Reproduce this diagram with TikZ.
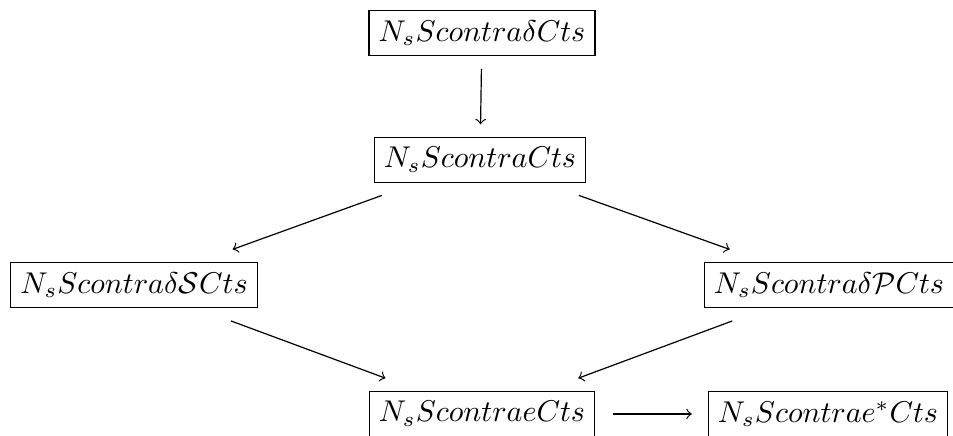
\documentclass[tikz,border=0pt]{standalone}
\usepackage{amsmath}
\usepackage{amssymb}
\usepackage{tikz}

\begin{document}
\begin{tikzpicture}[x=0.333pt,y=0.333pt,
        space/.style={draw=black,fill=white,line width=0.4pt,inner sep=3.2pt},
        imp/.style={->,line width=0.4pt,shorten <=4.3pt,shorten >=4.3pt},
        imph/.style={->,line width=0.4pt,shorten <=5.8pt,shorten >=5.3pt},
        impd/.style={->,line width=0.4pt,shorten <=12.5pt,shorten >=12.5pt}]
        \useasboundingbox (0,0) rectangle (953,436);
        % Implications between the classes of contra-continuous functions.
        \node[space] (top) at (482,403) {$N_sScontra\delta Cts$};
        \node[space] (mid) at (480,276) {$N_sScontraCts$};
        \node[space] (lft) at (134,151) {$N_sScontra\delta\mathcal{S}Cts$};
        \node[space] (rgt) at (829,151) {$N_sScontra\delta\mathcal{P}Cts$};
        \node[space] (bot) at (482,22) {$N_sScontraeCts$};
        \node[space] (botr) at (828,22) {$N_sScontrae^{*}Cts$};
        \draw[imp] (top) -- (mid);
        \draw[impd] (mid) -- (lft);
        \draw[impd] (mid) -- (rgt);
        \draw[impd] (lft) -- (bot);
        \draw[impd] (rgt) -- (bot);
        \draw[imph] (bot) -- (botr);
      \end{tikzpicture}
\end{document}
